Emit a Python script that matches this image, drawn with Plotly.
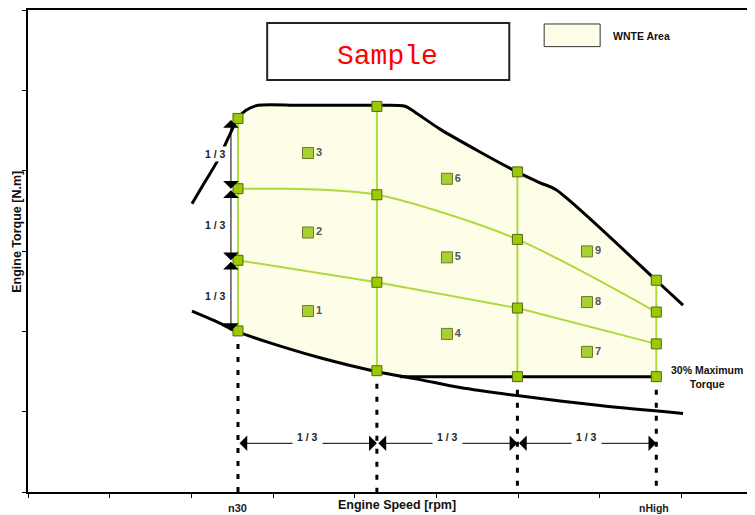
import plotly.graph_objects as go

# ---------------- data (axis units: speed ticks 0..8, torque ticks 0..6) ----------------
speed_cols = [2.57, 4.27, 5.99, 7.69]          # n30, 1/3, 2/3, nHigh
grid_top = [4.65, 4.80, 3.985, 2.636]
grid_upper = [3.775, 3.70, 3.144, 2.240]
grid_mid = [2.884, 2.611, 2.290, 1.844]
grid_bottom = [2.005, 1.51, 1.436, 1.436]

max_torque_x = [2.007, 2.166, 2.326, 2.472, 2.57, 2.668, 2.815, 3.329, 4.272, 4.614, 4.737,
                5.043, 5.532, 5.985, 6.267, 6.463, 7.687, 8.017]
max_torque_y = [3.589, 3.861, 4.134, 4.455, 4.653, 4.752, 4.814, 4.814, 4.814, 4.802, 4.728,
                4.517, 4.233, 3.985, 3.849, 3.762, 2.636, 2.327]

low_curve_x = [2.007, 2.289, 2.57, 2.962, 3.574, 4.272, 4.798, 5.288, 5.985, 7.001, 8.017]
low_curve_y = [2.252, 2.129, 1.993, 1.856, 1.671, 1.498, 1.399, 1.300, 1.200, 1.077, 0.978]

min30_x = [4.55, 7.69]
min30_y = [1.436, 1.436]

upper_line_x = [2.57, 3.084, 3.611, 4.27, 4.920, 5.99, 7.69]
upper_line_y = [3.775, 3.775, 3.762, 3.700, 3.527, 3.144, 2.240]

mode_x = [3.427, 3.427, 3.427, 5.128, 5.128, 5.128, 6.842, 6.842, 6.842]
mode_y = [2.252, 3.230, 4.220, 1.968, 2.921, 3.899, 1.745, 2.364, 2.995]
mode_labels = ["1", "2", "3", "4", "5", "6", "7", "8", "9"]

x_ticks = [0, 1, 2, 3, 4, 5, 6, 7, 8]
y_ticks = [0, 1, 2, 3, 4, 5, 6]

GREEN_LINE = "#B0D840"
GREEN_MARK = "#99CC00"
MARK_EDGE = "#55641A"
FILL = "#FEFEE8"
FONT = "Liberation Sans, Arial, sans-serif"

fig = go.Figure()

# ---- WNTE fill polygon built from the curves ----
n30, nhigh = speed_cols[0], speed_cols[-1]
px_ = [n30]
py_ = [grid_bottom[0]]
for x, y in zip(max_torque_x, max_torque_y):
    if n30 <= x <= nhigh:
        px_.append(x); py_.append(y)
px_ += [nhigh, min30_x[0]]
py_ += [grid_bottom[-1], min30_y[0]]
for x, y in reversed(list(zip(low_curve_x, low_curve_y))):
    if n30 <= x <= min30_x[0]:
        px_.append(x); py_.append(y)
fig.add_trace(go.Scatter(x=px_, y=py_, fill="toself", fillcolor=FILL, mode="none",
                         hoverinfo="skip", showlegend=False))

# ---- green grid lines ----
for i, c in enumerate(speed_cols):
    fig.add_trace(go.Scatter(x=[c, c], y=[grid_bottom[i], grid_top[i]], mode="lines",
                             line=dict(color=GREEN_LINE, width=2), showlegend=False, hoverinfo="skip"))
fig.add_trace(go.Scatter(x=upper_line_x, y=upper_line_y, mode="lines", line_shape="spline",
                         line=dict(color=GREEN_LINE, width=2), showlegend=False, hoverinfo="skip"))
fig.add_trace(go.Scatter(x=speed_cols, y=grid_mid, mode="lines",
                         line=dict(color=GREEN_LINE, width=2), showlegend=False, hoverinfo="skip"))

# ---- dotted drop lines ----
for i, c in enumerate(speed_cols):
    fig.add_trace(go.Scatter(x=[c, c], y=[grid_bottom[i], 0], mode="lines",
                             line=dict(color="black", width=3, dash="5px,8px"),
                             showlegend=False, hoverinfo="skip"))

# ---- black boundary curves ----
fig.add_trace(go.Scatter(x=max_torque_x, y=max_torque_y, mode="lines", line_shape="spline",
                         line=dict(color="black", width=3, smoothing=0.8), showlegend=False, hoverinfo="skip"))
fig.add_trace(go.Scatter(x=low_curve_x, y=low_curve_y, mode="lines", line_shape="spline",
                         line=dict(color="black", width=3, smoothing=0.8), showlegend=False, hoverinfo="skip"))
fig.add_trace(go.Scatter(x=min30_x, y=min30_y, mode="lines",
                         line=dict(color="black", width=3), showlegend=False, hoverinfo="skip"))

# ---- grid markers ----
gx, gy = [], []
for i, c in enumerate(speed_cols):
    for row in (grid_top, grid_upper, grid_mid, grid_bottom):
        gx.append(c); gy.append(row[i])
fig.add_trace(go.Scatter(x=gx, y=gy, mode="markers",
                         marker=dict(symbol="square", size=10, color=GREEN_MARK,
                                     line=dict(color=MARK_EDGE, width=1)),
                         showlegend=False, hoverinfo="skip"))

# ---- mode markers ----
fig.add_trace(go.Scatter(x=mode_x, y=mode_y, mode="markers+text", text=mode_labels,
                         textposition="middle right",
                         textfont=dict(family=FONT, size=11, color="#555555", weight="bold"),
                         marker=dict(symbol="square", size=11, color="#A8D030",
                                     line=dict(color="#6B7A2A", width=1)),
                         showlegend=False, hoverinfo="skip"))

annotations = []
ARW = dict(text="", showarrow=True, arrowhead=1, startarrowhead=1, arrowside="end+start",
           arrowsize=2.6, startarrowsize=2.6, arrowwidth=1, arrowcolor="black",
           standoff=0, startstandoff=0, xref="x", yref="y", axref="x", ayref="y")
# vertical 1/3 arrows
arrow_x = 2.484
rows_left = [grid_top[0], grid_upper[0], grid_mid[0], grid_bottom[0]]
for a, b in zip(rows_left[:-1], rows_left[1:]):
    annotations.append(dict(x=arrow_x, y=b, ax=arrow_x, ay=a, **ARW))
for a, b in zip(rows_left[:-1], rows_left[1:]):
    annotations.append(dict(x=2.30, y=(a + b) / 2, xref="x", yref="y", text="<b>1 / 3</b>",
                            xanchor="center", yanchor="middle",
                            showarrow=False, font=dict(family=FONT, size=10.5, color="#222"),
                            bgcolor="white"))
# horizontal 1/3 arrows
arrow_y = 0.606
for a, b in zip(speed_cols[:-1], speed_cols[1:]):
    annotations.append(dict(x=b, y=arrow_y, ax=a, ay=arrow_y, **ARW))
for a, b in zip(speed_cols[:-1], speed_cols[1:]):
    annotations.append(dict(x=(a + b) / 2, y=arrow_y, xref="x", yref="y", text="<b>1 / 3</b>",
                            xanchor="center", yanchor="middle",
                            showarrow=False, font=dict(family=FONT, size=10.5, color="#222"),
                            bgcolor="white", yshift=6, borderpad=4))

C = dict(xanchor="center", yanchor="middle", showarrow=False)
annotations += [
    dict(x=n30, y=-0.033, xref="x", yref="paper", text="<b>n30</b>",
         font=dict(family=FONT, size=11, color="#222"), **C),
    dict(x=nhigh - 0.03, y=-0.033, xref="x", yref="paper", text="<b>nHigh</b>",
         font=dict(family=FONT, size=10.5, color="#222"), **C),
    dict(x=0.508, y=-0.027, xref="paper", yref="paper", text="<b>Engine Speed [rpm]</b>",
         font=dict(family=FONT, size=12.5, color="#111"), **C),
    dict(x=-0.015, y=0.54, xref="paper", yref="paper", text="<b>Engine Torque [N.m]</b>",
         textangle=-90, font=dict(family=FONT, size=12.5, color="#111"), **C),
    dict(x=0.934, y=0.238, xref="paper", yref="paper", text="<b>30% Maximum<br>Torque</b>",
         font=dict(family=FONT, size=10.5, color="#111"), **C),
    dict(x=0.802, y=0.946, xref="paper", yref="paper", text="<b>WNTE Area</b>",
         font=dict(family=FONT, size=10.5, color="#111"),
         xanchor="left", yanchor="middle", showarrow=False),
    dict(x=0.495, y=0.904, xref="paper", yref="paper", text="Sample",
         font=dict(family="Liberation Mono, Courier New, monospace", size=28, color="red"), **C),
]

shapes = [
    dict(type="rect", xref="paper", yref="paper", x0=0.329, x1=0.662, y0=0.855, y1=0.973,
         line=dict(color="#222", width=2), fillcolor="white", layer="below"),
    dict(type="rect", xref="paper", yref="paper", x0=0.710, x1=0.787, y0=0.924, y1=0.971,
         line=dict(color="#333", width=1), fillcolor=FILL, layer="below"),
]

fig.update_layout(
    width=747, height=507,
    margin=dict(l=20, r=0, t=0, b=23),
    paper_bgcolor="white", plot_bgcolor="white",
    showlegend=False,
    annotations=annotations, shapes=shapes,
    xaxis=dict(range=[0, 8.898], showgrid=False, zeroline=False, showline=True, linecolor="black",
               linewidth=2, mirror=True, ticks="outside", ticklen=4, tickcolor="black",
               tickvals=x_ticks, showticklabels=False),
    yaxis=dict(range=[0, 6], showgrid=False, zeroline=False, showline=True, linecolor="black",
               linewidth=2, ticks="outside", ticklen=4, tickcolor="black",
               tickvals=y_ticks, showticklabels=False),
)

fig.write_html("out.html")
